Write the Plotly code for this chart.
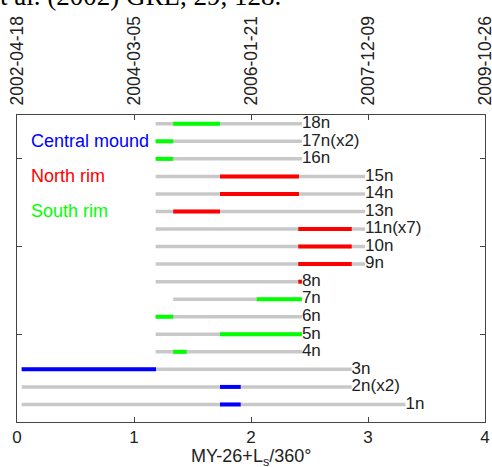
import plotly.graph_objects as go

# ---- data ----
row_labels = ["1n", "2n(x2)", "3n", "4n", "5n", "6n", "7n", "8n", "9n", "10n",
              "11n(x7)", "13n", "14n", "15n", "16n", "17n(x2)", "18n"]
row_pos = list(range(1, 18))
gray_start = [0.04, 0.04, 0.04, 1.185, 1.185, 1.185, 1.335, 1.185, 1.185, 1.185,
              1.185, 1.185, 1.185, 1.185, 1.185, 1.185, 1.185]
gray_end = [3.32, 2.86, 2.86, 2.435, 2.435, 2.435, 2.435, 2.435, 2.975, 2.975,
            2.975, 2.975, 2.975, 2.975, 2.435, 2.435, 2.435]
seg_start = [1.735, 1.735, 0.04, 1.335, 1.735, 1.185, 2.049, 2.404, 2.404, 2.404,
             2.404, 1.335, 1.735, 1.735, 1.185, 1.185, 1.335]
seg_end = [1.912, 1.912, 1.188, 1.45, 2.435, 1.335, 2.435, 2.435, 2.861, 2.861,
           2.861, 1.735, 2.41, 2.41, 1.335, 1.335, 1.735]
seg_region = ["Central mound", "Central mound", "Central mound", "South rim", "South rim",
              "South rim", "South rim", "North rim", "North rim", "North rim",
              "North rim", "North rim", "North rim", "North rim", "South rim",
              "South rim", "South rim"]
regions = ["Central mound", "North rim", "South rim"]
region_colors = {"Central mound": "#0000ff", "North rim": "#ff0000", "South rim": "#00ff00"}
region_label_rows = [16, 14, 12]
x_ticks = [0, 1, 2, 3, 4]
date_ticks = ["2002-04-18", "2004-03-05", "2006-01-21", "2007-12-09", "2009-10-26"]
x_title = "MY-26+L<sub>s</sub>/360°"
top_text = "t al. (2002) GRL, 29, 128."

FONT = "Liberation Sans, Arial, sans-serif"

fig = go.Figure()

gx, gy = [], []
for s, e, y in zip(gray_start, gray_end, row_pos):
    gx += [s, e, None]
    gy += [y, y, None]
fig.add_trace(go.Scatter(x=gx, y=gy, mode="lines", line=dict(color="#c8c8c8", width=3.5),
                         showlegend=False, hoverinfo="skip"))

for reg in regions:
    cx, cy = [], []
    for s, e, y, r in zip(seg_start, seg_end, row_pos, seg_region):
        if r == reg:
            cx += [s, e, None]
            cy += [y, y, None]
    fig.add_trace(go.Scatter(x=cx, y=cy, mode="lines",
                             line=dict(color=region_colors[reg], width=4),
                             showlegend=False, hoverinfo="skip"))

fig.add_trace(go.Scatter(x=gray_end, y=row_pos, mode="text", text=row_labels,
                         textposition="middle right",
                         textfont=dict(family=FONT, size=17, color="#222222"),
                         showlegend=False, hoverinfo="skip", cliponaxis=False))

# invisible trace to activate top axis
fig.add_trace(go.Scatter(x=x_ticks, y=[None] * len(x_ticks), xaxis="x2", mode="markers",
                         showlegend=False, hoverinfo="skip"))

for reg, yr in zip(regions, region_label_rows):
    fig.add_annotation(x=0.1, y=yr, xref="x", yref="y", text=reg, showarrow=False,
                       xanchor="left", yanchor="middle",
                       font=dict(family=FONT, size=18, color=region_colors[reg]))

fig.add_annotation(x=0, y=1.0, xref="paper", yref="paper", text=top_text,
                   showarrow=False, xanchor="left", yanchor="bottom", yshift=102,
                   xshift=-19,
                   font=dict(family="Liberation Serif, Times New Roman, serif", size=27, color="#000000"))

fig.add_annotation(x=0.5, y=0, xref="paper", yref="paper", text=x_title,
                   showarrow=False, xanchor="center", yanchor="middle", yshift=-35,
                   font=dict(family=FONT, size=18, color="#222222"))

axis_common = dict(showline=True, linecolor="#444444", linewidth=1, ticks="inside",
                   ticklen=5, tickcolor="#444444", showgrid=False, zeroline=False,
                   automargin=False, ticklabeloverflow="allow")

fig.update_layout(
    width=492, height=467,
    margin=dict(l=17, r=7, t=115, b=45),
    paper_bgcolor="white", plot_bgcolor="white",
    xaxis=dict(range=[0, 4], tickvals=x_ticks, ticktext=[str(v) for v in x_ticks],
               tickfont=dict(family=FONT, size=17, color="#222222"), **axis_common),
    xaxis2=dict(range=[0, 4], overlaying="x", side="top", tickvals=x_ticks, ticktext=date_ticks,
                tickangle=-90, ticklabelstandoff=5,
                tickfont=dict(family=FONT, size=17.5, color="#222222"), **axis_common),
    yaxis=dict(range=[0, 17.5], tickvals=[5, 10, 15], showticklabels=False, mirror="ticks",
               **axis_common),
)

fig.write_html("out.html", config={"displayModeBar": False},
               post_script="document.body.style.margin='0';")
